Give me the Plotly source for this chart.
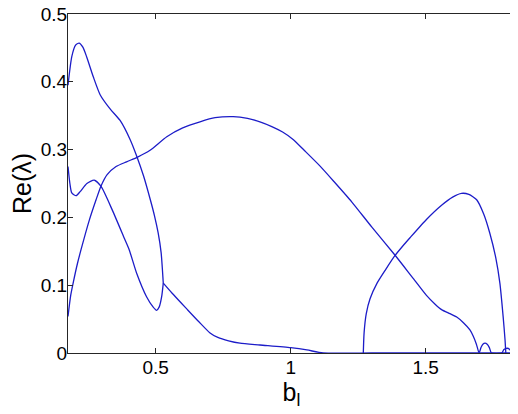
import plotly.graph_objects as go

# upper branch: peak near b=0.22, falls into the cusp at b~0.53
upper_x = [0.175, 0.189, 0.203, 0.216, 0.23, 0.244, 0.269, 0.294, 0.331, 0.368,
           0.405, 0.429, 0.455, 0.48, 0.495, 0.509, 0.52, 0.528]
upper_y = [0.395, 0.437, 0.454, 0.457, 0.451, 0.437, 0.407, 0.381, 0.36, 0.343,
           0.315, 0.291, 0.261, 0.226, 0.203, 0.177, 0.148, 0.103]

# lower loop branch: dips, small hump, minimum near b=0.5, back up to the cusp
loop_x = [0.175, 0.182, 0.189, 0.205, 0.22, 0.245, 0.272, 0.297, 0.34, 0.386,
          0.402, 0.429, 0.466, 0.49, 0.503, 0.513, 0.522, 0.528]
loop_y = [0.275, 0.25, 0.236, 0.232, 0.238, 0.25, 0.255, 0.246, 0.21, 0.167,
          0.152, 0.118, 0.083, 0.068, 0.063, 0.068, 0.083, 0.103]

# tail after the cusp, decaying to zero
tail_x = [0.528, 0.56, 0.615, 0.66, 0.70, 0.73, 0.77, 0.812, 0.886, 1.0,
          1.06, 1.12, 1.3, 1.5, 1.7, 1.831]
tail_y = [0.103, 0.0885, 0.065, 0.046, 0.030, 0.023, 0.018, 0.0145, 0.0118, 0.0078,
          0.0045, 0.0, 0.0, 0.0, 0.0, 0.0]

# broad hump branch peaking near b=0.79
broad_x = [0.175, 0.185, 0.195, 0.21, 0.223, 0.254, 0.279, 0.297, 0.32, 0.353,
           0.392, 0.433, 0.479, 0.541, 0.6, 0.664, 0.72, 0.787, 0.84, 0.886,
           0.93, 0.97, 1.009, 1.05, 1.108, 1.16, 1.226, 1.3, 1.386, 1.45,
           1.503, 1.535, 1.559, 1.59, 1.615, 1.639, 1.664, 1.676, 1.688, 1.698,
           1.705, 1.712, 1.72, 1.728, 1.736, 1.744, 1.782, 1.79, 1.802, 1.812,
           1.819, 1.831]
broad_y = [0.054, 0.085, 0.105, 0.132, 0.152, 0.196, 0.226, 0.246, 0.263, 0.275,
           0.282, 0.289, 0.299, 0.319, 0.332, 0.341, 0.347, 0.3486, 0.346, 0.341,
           0.334, 0.326, 0.315, 0.299, 0.276, 0.253, 0.223, 0.186, 0.1445, 0.112,
           0.085, 0.072, 0.064, 0.058, 0.053, 0.045, 0.034, 0.025, 0.013, 0.0,
           0.008, 0.013, 0.0145, 0.013, 0.008, 0.0, 0.0, 0.005, 0.007, 0.005,
           0.0, 0.0]

# right branch, born at b~1.27, dies at b~1.8
right_x = [1.269, 1.272, 1.28, 1.294, 1.32, 1.35, 1.386, 1.42, 1.442, 1.503,
           1.559, 1.6, 1.633, 1.66, 1.689, 1.715, 1.7375, 1.76, 1.775, 1.787,
           1.794, 1.797]
right_y = [0.0, 0.03, 0.058, 0.08, 0.103, 0.122, 0.1435, 0.16, 0.17, 0.197,
           0.218, 0.23, 0.2355, 0.234, 0.226, 0.205, 0.177, 0.14, 0.103, 0.054,
           0.02, 0.0]

x_ticks = [0.5, 1, 1.5]
x_tick_labels = ['0.5', '1', '1.5']
y_ticks = [0, 0.1, 0.2, 0.3, 0.4, 0.5]
y_tick_labels = ['0', '0.1', '0.2', '0.3', '0.4', '0.5']

LINE_COLOR = '#1c1cc8'
FONT = 'Liberation Sans, Arial, Helvetica, sans-serif'

fig = go.Figure()
for xs, ys in [(upper_x, upper_y), (loop_x, loop_y), (tail_x, tail_y),
               (broad_x, broad_y), (right_x, right_y)]:
    fig.add_trace(go.Scatter(
        x=xs, y=ys, mode='lines',
        line=dict(color=LINE_COLOR, width=1.3, shape='spline', smoothing=0.6),
        hoverinfo='skip',
    ))

axis_common = dict(
    automargin=False,
    showgrid=False, zeroline=False,
    showline=True, linecolor='#262626', linewidth=1, mirror='ticks',
    ticks='inside', ticklen=5, tickcolor='#262626',
    ticklabeloverflow='allow',
    tickfont=dict(family=FONT, size=19, color='black'),
)

# the page body keeps its default 8px margin, so the figure is 8px smaller
fig.update_layout(
    width=510, height=406,
    margin=dict(l=60, r=3, t=6, b=61),
    plot_bgcolor='white', paper_bgcolor='white',
    showlegend=False,
    xaxis=dict(
        range=[0.175, 1.831],
        tickvals=x_ticks, ticktext=x_tick_labels,
        ticklabelstandoff=-3,
        title=dict(text='b<sub>l</sub>', font=dict(family=FONT, size=25, color='black'),
                   standoff=0),
        **axis_common,
    ),
    yaxis=dict(
        range=[0, 0.5],
        tickvals=y_ticks, ticktext=y_tick_labels,
        ticklabelstandoff=-4,
        title=dict(text='Re(λ)', font=dict(family=FONT, size=25, color='black'),
                   standoff=8),
        **axis_common,
    ),
)

fig.write_html("out.html")
